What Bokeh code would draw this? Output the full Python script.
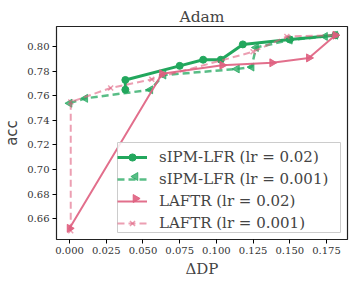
import math
from bokeh.plotting import figure
from bokeh.models import FixedTicker, NumeralTickFormatter, Range1d, Legend, LegendItem
from bokeh.embed import file_html
from bokeh.resources import INLINE

# sIPM-LFR (lr = 0.02)
s1_x = [0.038, 0.038, 0.075, 0.091, 0.103, 0.118, 0.150, 0.181]
s1_y = [0.765, 0.773, 0.7845, 0.7895, 0.7895, 0.802, 0.806, 0.8095]
# sIPM-LFR (lr = 0.001)
s2_x = [0.000, 0.0107, 0.055, 0.064, 0.114, 0.124, 0.127, 0.150, 0.174, 0.181]
s2_y = [0.754, 0.758, 0.765, 0.777, 0.782, 0.7835, 0.7995, 0.8055, 0.8085, 0.8095]
# LAFTR (lr = 0.02)
l1_x = [0.000, 0.063, 0.104, 0.138, 0.163, 0.181]
l1_y = [0.652, 0.778, 0.785, 0.787, 0.791, 0.8095]
# LAFTR (lr = 0.001)
l2_x = [0.0008, 0.0008, 0.028, 0.056, 0.125, 0.148, 0.181]
l2_y = [0.650, 0.755, 0.7665, 0.7735, 0.796, 0.8085, 0.8095]

labels = ["sIPM-LFR (lr = 0.02)", "sIPM-LFR (lr = 0.001)", "LAFTR (lr = 0.02)", "LAFTR (lr = 0.001)"]
x_ticks = [0.0, 0.025, 0.05, 0.075, 0.1, 0.125, 0.15, 0.175]
y_ticks = [0.66, 0.68, 0.70, 0.72, 0.74, 0.76, 0.78, 0.80]

GREEN = "#22a75d"
PINK = "#df5f7f"
SERIF = "DejaVu Serif"

FW, FH = 291, 213
XR = (-0.0089, 0.1893)
YR = (0.6429, 0.8166)

p = figure(frame_width=FW, frame_height=FH, output_backend="svg", toolbar_location=None,
           x_range=Range1d(*XR), y_range=Range1d(*YR),
           min_border_left=56, min_border_right=3, min_border_top=26, min_border_bottom=39,
           title="Adam")
p.title.align = "center"
p.title.text_font = SERIF
p.title.text_font_size = "15.5px"
p.title.text_font_style = "normal"
p.title.standoff = 2
p.xgrid.visible = False
p.ygrid.visible = False
p.outline_line_color = "#222222"
p.outline_line_width = 1.2

for ax in (p.xaxis[0], p.yaxis[0]):
    ax.major_label_text_font = SERIF
    ax.major_label_text_font_size = "10px"
    ax.major_label_text_color = "#333333"
    ax.major_label_standoff = 3
    ax.minor_tick_line_color = None
    ax.major_tick_out = 4
    ax.major_tick_in = 0
    ax.axis_line_color = None
p.xaxis.ticker = FixedTicker(ticks=x_ticks)
p.yaxis.ticker = FixedTicker(ticks=y_ticks)
p.xaxis.formatter = NumeralTickFormatter(format="0.000")
p.yaxis.formatter = NumeralTickFormatter(format="0.00")
p.xaxis.axis_label = "ΔDP"
p.xaxis.axis_label_text_font = SERIF
p.xaxis.axis_label_text_font_size = "15px"
p.xaxis.axis_label_text_font_style = "normal"
p.xaxis.axis_label_standoff = 3
p.yaxis.axis_label = "acc"
p.yaxis.axis_label_text_font = "DejaVu Sans"
p.yaxis.axis_label_text_font_size = "15px"
p.yaxis.axis_label_text_font_style = "normal"
p.yaxis.axis_label_standoff = 3

r1l = p.line(s1_x, s1_y, line_color=GREEN, line_width=3)
r1s = p.scatter(s1_x, s1_y, marker="circle", size=7, fill_color=GREEN, line_color=GREEN)

r2l = p.line(s2_x, s2_y, line_color=GREEN, line_width=2.5, line_dash="7 4", line_alpha=0.75)
r2s = p.scatter(s2_x, s2_y, marker="triangle", angle=math.pi / 2, size=8,
                fill_color=GREEN, line_color=GREEN, fill_alpha=0.75, line_alpha=0.75)

r3l = p.line(l1_x, l1_y, line_color=PINK, line_width=2, line_alpha=0.9)
r3s = p.scatter(l1_x, l1_y, marker="triangle", angle=-math.pi / 2, size=8,
                fill_color=PINK, line_color=PINK, fill_alpha=0.9, line_alpha=0.9)

r4l = p.line(l2_x, l2_y, line_color=PINK, line_width=2, line_dash="7 4", line_alpha=0.6)
r4s = p.scatter(l2_x, l2_y, marker="x", size=7, line_color=PINK, line_alpha=0.6, line_width=1.5)

# legend geometry (screen px relative to frame bottom-left)
LX, LY, PAD, ROW, SP, GW, STAND, RIGHT = 61, 7, 3, 18, 4, 30, 12, 284

def sx2d(sx):
    return XR[0] + sx / FW * (XR[1] - XR[0])
def sy2d(sy):
    return YR[0] + sy / FH * (YR[1] - YR[0])

top = LY + 2 * PAD + 4 * ROW + 3 * SP
# legend box drawn as a glyph so that the direction-pointing keys can sit above it
p.quad(left=[sx2d(LX)], right=[sx2d(RIGHT)], bottom=[sy2d(LY)], top=[sy2d(top)],
       fill_color="white", fill_alpha=0.85, line_color="#cccccc", line_width=1)

kx = LX + PAD + GW / 2
def row_center(i):
    return top - PAD - ROW / 2 - i * (ROW + SP)
p.scatter([sx2d(kx)], [sy2d(row_center(1))], marker="triangle", angle=math.pi / 2, size=8,
          fill_color=GREEN, line_color=GREEN, fill_alpha=0.75, line_alpha=0.75)
p.scatter([sx2d(kx)], [sy2d(row_center(2))], marker="triangle", angle=-math.pi / 2, size=8,
          fill_color=PINK, line_color=PINK, fill_alpha=0.9, line_alpha=0.9)

legend = Legend(items=[
    LegendItem(label=labels[0], renderers=[r1l, r1s]),
    LegendItem(label=labels[1], renderers=[r2l]),
    LegendItem(label=labels[2], renderers=[r3l]),
    LegendItem(label=labels[3], renderers=[r4l, r4s]),
], location=(LX, LY))
legend.label_text_font = SERIF
legend.label_text_font_size = "15px"
legend.label_height = ROW
legend.glyph_height = ROW
legend.glyph_width = GW
legend.label_standoff = STAND
legend.spacing = SP
legend.padding = PAD
legend.border_line_color = None
legend.background_fill_alpha = 0
p.add_layout(legend)

open("out.html", "w").write(file_html(p, INLINE))
